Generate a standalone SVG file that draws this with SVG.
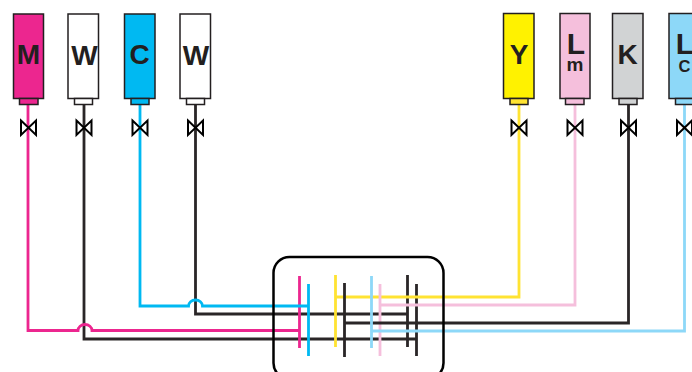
<svg xmlns="http://www.w3.org/2000/svg" width="692" height="372" viewBox="0 0 692 372">
<style>
.tank{stroke:#231f20;stroke-width:1.5}
.valve{fill:#fff;stroke:#000;stroke-width:2}
.lbl{font-family:"Liberation Sans",Arial,sans-serif;font-weight:700;fill:#231f20;text-anchor:middle}
.big{font-size:28px}
.ln{fill:none;stroke-width:2.8;stroke-linejoin:miter}
.m{stroke:#ec268f}.c{stroke:#00b9f2}.k{stroke:#2a2627}.y{stroke:#ffe332}.p{stroke:#f5bfdc}.b{stroke:#8dd8f8}
</style>
<defs>
<path id="v" class="valve" d="M-7.500 -7.500L7.500 7L7.500 -7.500L-7.500 7Z"/>
</defs>
<g id="connectors">
<path class="ln k" d="M84 104V339H416.500M416.500 284V356"/>
<path class="ln k" d="M195.500 104V314H407.500M407.500 275V347"/>
<path class="ln m" d="M28 104V330.500H78A7 6 0 0 1 92 330.500H299.500M299.500 276V348"/>
<path class="ln c" d="M140 104V306H188.500A7 6 0 0 1 202.500 306H308.500M308.500 284V356"/>
<path class="ln y" d="M519 104V297H335.500M335.500 275V347"/>
<path class="ln p" d="M575 104V305H380M380 284V356"/>
<path class="ln k" d="M628.500 104V323H344.500M344.500 283V357"/>
<path class="ln b" d="M684.500 104V331H371.500M371.500 276V348"/>
</g>
<g id="manifold"><rect x="273.500" y="257" width="170" height="122" rx="16" fill="none" stroke="#000" stroke-width="2.500"/></g>
<g id="tank-m"><rect class="tank" x="13.500" y="14" width="30" height="84.500" fill="#ec268f"/><rect class="tank" x="19.500" y="98.500" width="18.500" height="6" fill="#ec268f"/><use href="#v" x="28.500" y="128"/><text class="lbl big" x="28.500" y="63.500">M</text></g>
<g id="tank-w1"><rect class="tank" x="68" y="14" width="30.500" height="84.500" fill="#fff"/><rect class="tank" x="74.500" y="98.500" width="18" height="6" fill="#fff"/><use href="#v" x="84" y="128"/><text class="lbl big" x="84.500" y="65">W</text></g>
<g id="tank-c"><rect class="tank" x="124.500" y="14" width="30.500" height="84.500" fill="#00b9f2"/><rect class="tank" x="131" y="98.500" width="18" height="6" fill="#00b9f2"/><use href="#v" x="140" y="128"/><text class="lbl big" x="139.500" y="64">C</text></g>
<g id="tank-w2"><rect class="tank" x="180" y="14" width="30.500" height="84.500" fill="#fff"/><rect class="tank" x="186.500" y="98.500" width="18" height="6" fill="#fff"/><use href="#v" x="195.500" y="128"/><text class="lbl big" x="196" y="65">W</text></g>
<g id="tank-y"><rect class="tank" x="503.500" y="13.500" width="30.500" height="85" fill="#fff200"/><rect class="tank" x="510" y="98.500" width="18" height="6" fill="#ffe332"/><use href="#v" x="519" y="128"/><text class="lbl big" x="519" y="63.500">Y</text></g>
<g id="tank-lm"><rect class="tank" x="560" y="13.500" width="30" height="85" fill="#f5bfdc"/><rect class="tank" x="565.500" y="98.500" width="18.500" height="6" fill="#f5bfdc"/><use href="#v" x="575" y="128"/><text class="lbl" font-size="30" x="576" y="54">L</text><text class="lbl" font-size="19" x="575" y="71">m</text></g>
<g id="tank-k"><rect class="tank" x="612.500" y="13.500" width="30.500" height="85" fill="#d1d3d4"/><rect class="tank" x="619" y="98.500" width="18" height="6" fill="#d1d3d4"/><use href="#v" x="628.500" y="128"/><text class="lbl big" x="627.500" y="64">K</text></g>
<g id="tank-lc"><rect class="tank" x="669" y="13.500" width="31" height="85" fill="#8dd8f8"/><rect class="tank" x="675.500" y="98.500" width="18" height="6" fill="#8dd8f8"/><use href="#v" x="684.500" y="128"/><text class="lbl" font-size="30" x="685" y="54">L</text><text class="lbl" font-size="16.500" x="684.500" y="71.500">C</text></g>
</svg>
